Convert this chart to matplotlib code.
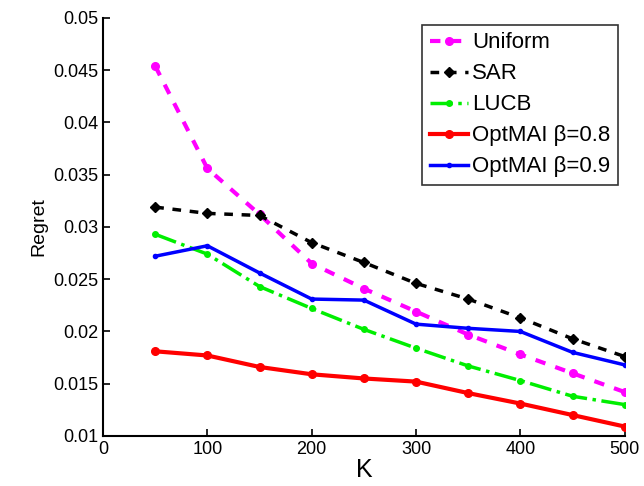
import matplotlib.pyplot as plt
import numpy as np

plt.rcParams['font.family'] = ['Liberation Sans', 'DejaVu Sans']

K = [50, 100, 150, 200, 250, 300, 350, 400, 450, 500]
uniform = [0.0454, 0.0356, 0.0312, 0.0265, 0.0241, 0.0219, 0.0197, 0.0178, 0.0160, 0.0142]
sar = [0.0319, 0.0313, 0.0311, 0.0285, 0.0266, 0.0246, 0.0231, 0.0213, 0.0193, 0.0176]
lucb = [0.0293, 0.0274, 0.0243, 0.0222, 0.0202, 0.0184, 0.0167, 0.0153, 0.0138, 0.0130]
opt08 = [0.0181, 0.0177, 0.0166, 0.0159, 0.0155, 0.0152, 0.0141, 0.0131, 0.0120, 0.0109]
opt09 = [0.0272, 0.0282, 0.0256, 0.0231, 0.0230, 0.0207, 0.0203, 0.0200, 0.0180, 0.0168]

fig = plt.figure(figsize=(6.44, 4.86), dpi=100)
ax = fig.add_axes([0.16, 0.103, 0.81, 0.86])

ax.plot(K, uniform, linestyle='--', color='#ff00ff', marker='o', markersize=5.5,
        linewidth=3, dashes=(2.5, 2.5), label='Uniform')
ax.plot(K, sar, linestyle='--', color='black', marker='D', markersize=5,
        linewidth=2.5, dashes=(2.5, 2.5), label='SAR')
ax.plot(K, lucb, linestyle='-.', color='#00ee00', marker='o', markersize=4,
        linewidth=2.5, label='LUCB')
ax.plot(K, opt08, linestyle='-', color='red', marker='o', markersize=5.5,
        linewidth=3, label='OptMAI β=0.8')
ax.plot(K, opt09, linestyle='-', color='blue', marker='o', markersize=3,
        linewidth=2.5, label='OptMAI β=0.9')

ax.set_xlim(0, 500)
ax.set_ylim(0.01, 0.05)
ax.xaxis.set_major_locator(plt.MultipleLocator(100))
ax.yaxis.set_major_locator(plt.MultipleLocator(0.005))
ax.yaxis.set_major_formatter(plt.FuncFormatter(lambda v, p: ('%.3f' % v).rstrip('0')))
ax.tick_params(direction='in', labelsize=13, length=5, width=1.2)
ax.spines['top'].set_visible(False)
ax.spines['right'].set_visible(False)
ax.spines['left'].set_linewidth(1.5)
ax.spines['bottom'].set_linewidth(1.5)

ax.set_xlabel('K', fontsize=18, labelpad=0)
ax.set_ylabel('Regret', fontsize=14, labelpad=4)

leg = ax.legend(loc='upper right', fontsize=16, frameon=True, fancybox=False,
                edgecolor='black', handlelength=1.7, handletextpad=0.2,
                borderpad=0.35, labelspacing=0.45, borderaxespad=0.3)
leg.get_frame().set_linewidth(1.2)

plt.savefig('out.png', dpi=100)
